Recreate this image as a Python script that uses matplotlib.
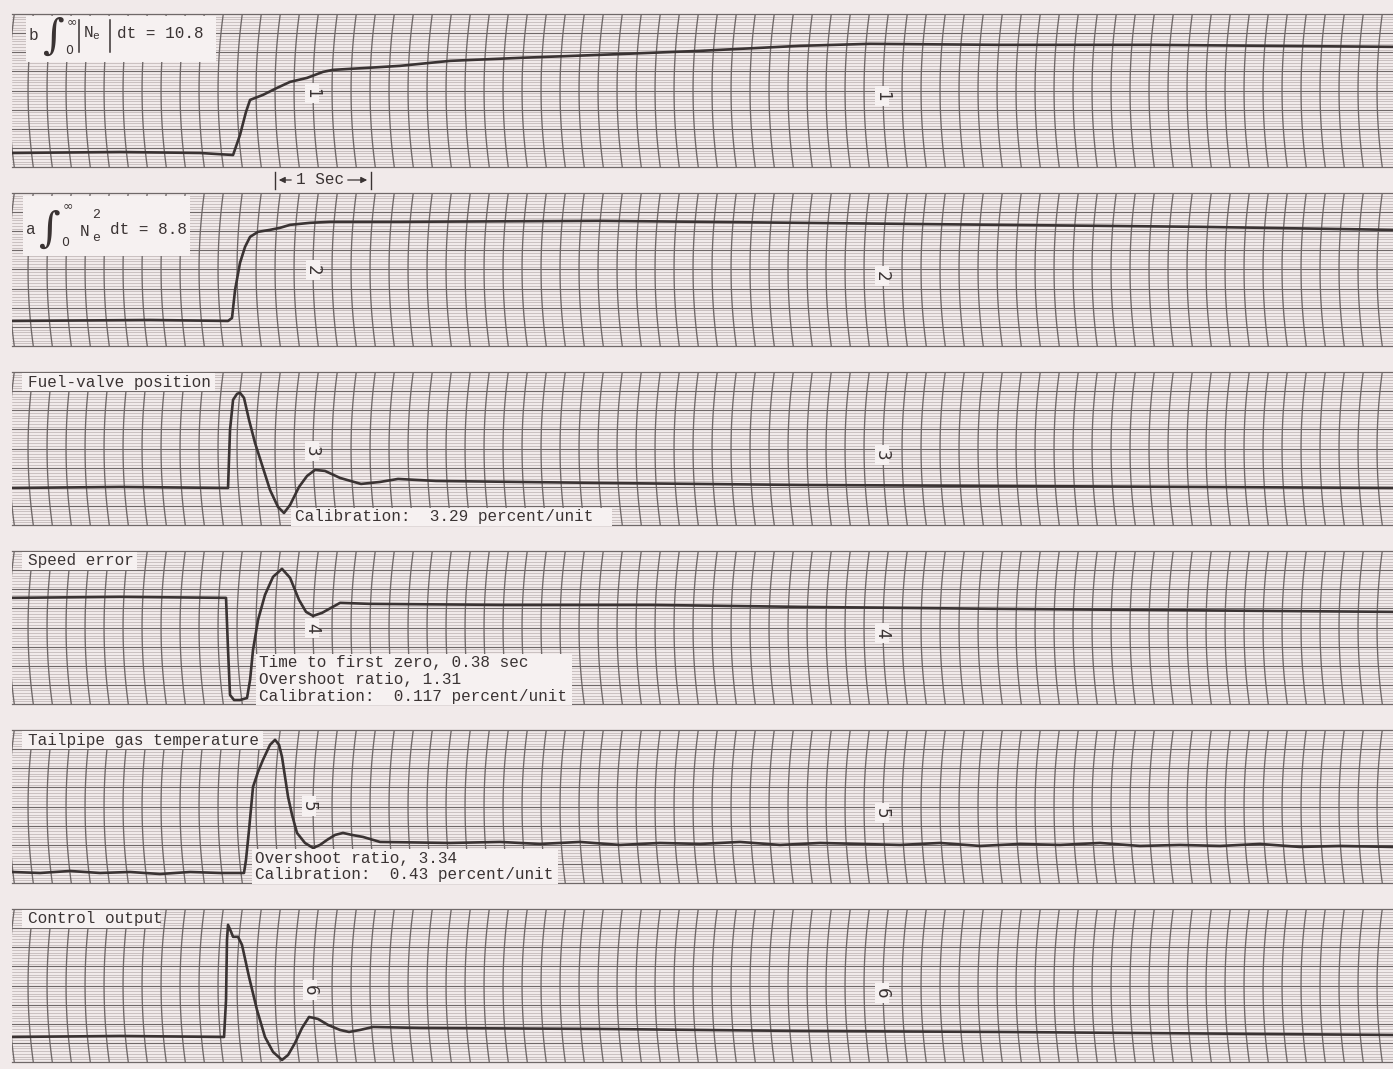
import matplotlib
matplotlib.use("Agg")
import matplotlib.pyplot as plt
from matplotlib.patches import Rectangle
import numpy as np

W, H = 1393, 1069
PAPER = "#f1eaea"
LABEL_BG = "#f6f1f1"
INK = "#3a3333"
GRID_MAJOR = "#6f6868"
GRID_FINE = "#b3aaaa"

plt.rcParams["font.family"] = ["Liberation Mono", "DejaVu Sans Mono"]
plt.rcParams["mathtext.fontset"] = "custom"
plt.rcParams["mathtext.rm"] = "Liberation Mono"
plt.rcParams["mathtext.it"] = "Liberation Mono"

# time after the step (s) and trace deflection (chart divisions above the strip bottom)
t1 = [-2.295, -1.158, -0.316, 0.032, 0.105, 0.168, 0.211, 0.347, 0.495, 0.632, 0.811, 0.979,
      1.084, 1.442, 1.789, 2.316, 3.053, 3.895, 4.947, 6.000, 6.737, 8.105, 9.684, 12.242]
d1 = [0.733, 0.785, 0.733, 0.628, 1.675, 2.880, 3.508, 3.770, 4.136, 4.450, 4.660, 4.974,
      5.079, 5.183, 5.288, 5.550, 5.707, 5.864, 6.073, 6.335, 6.440, 6.387, 6.387, 6.283]

t2 = [-2.295, -0.842, -0.021, 0.021, 0.053, 0.105, 0.158, 0.211, 0.295, 0.421, 0.526, 0.632,
      0.842, 1.053, 1.789, 3.895, 6.000, 8.105, 10.211, 12.242]
d2 = [1.309, 1.361, 1.309, 1.466, 2.932, 4.346, 5.183, 5.707, 5.969, 6.073, 6.178, 6.335,
      6.440, 6.492, 6.492, 6.545, 6.440, 6.335, 6.230, 6.073]

t3 = [-2.295, -1.158, -0.021, 0.000, 0.032, 0.074, 0.105, 0.147, 0.200, 0.263, 0.337, 0.421,
      0.505, 0.568, 0.632, 0.726, 0.811, 0.895, 1.000, 1.158, 1.379, 1.579, 1.768, 2.168,
      3.895, 6.000, 8.105, 12.242]
d3 = [1.937, 1.990, 1.937, 4.974, 6.545, 6.859, 6.911, 6.649, 5.497, 4.293, 3.141, 1.832,
      0.942, 0.628, 1.047, 1.990, 2.565, 2.880, 2.827, 2.461, 2.147, 2.251, 2.408, 2.304,
      2.199, 2.094, 2.042, 1.937]

t4 = [-2.295, -1.158, -0.042, -0.021, 0.000, 0.042, 0.105, 0.179, 0.211, 0.242, 0.295, 0.368,
      0.453, 0.547, 0.632, 0.726, 0.800, 0.874, 0.968, 1.158, 1.474, 2.842, 4.421, 6.000,
      8.105, 12.242]
d4 = [5.550, 5.602, 5.550, 2.827, 0.471, 0.209, 0.209, 0.314, 1.257, 2.827, 4.398, 5.707,
      6.649, 7.068, 6.597, 5.445, 4.817, 4.607, 4.764, 5.288, 5.236, 5.183, 5.183, 5.079,
      4.974, 4.817]

t5 = [-2.295, -2.0, -1.684, -1.368, -1.053, -0.737, -0.421, -0.105, 0.147, 0.168, 0.200,
      0.242, 0.295, 0.347, 0.421, 0.474, 0.516, 0.547, 0.611, 0.653, 0.705, 0.789, 0.874,
      0.947, 1.021, 1.105, 1.189, 1.284, 1.400, 1.579, 2.316, 2.842, 3.263, 3.684, 4.105,
      4.526, 4.947, 5.368, 5.789, 6.211, 6.632, 7.053, 7.474, 7.895, 8.316, 8.737, 9.158,
      9.579, 10.0, 10.421, 10.842, 11.263, 11.684, 12.242]
d5 = [0.576, 0.524, 0.628, 0.524, 0.576, 0.471, 0.576, 0.524, 0.524, 1.204, 2.775,
      5.026, 5.812, 6.440, 7.225, 7.487, 7.225, 6.597, 4.503, 3.560, 2.618, 2.094, 1.832,
      1.990, 2.251, 2.513, 2.618, 2.513, 2.408, 2.147, 2.094, 2.147, 2.042, 2.147, 1.990,
      2.094, 2.042, 2.147, 1.990, 2.094, 2.042, 1.990, 2.094, 1.937, 2.042, 1.990, 2.094,
      1.937, 1.990, 1.937, 2.042, 1.885, 1.937, 1.885]

t6 = [-2.295, -1.158, -0.063, -0.042, -0.032, -0.021, 0.011, 0.032, 0.084, 0.126, 0.200,
      0.284, 0.368, 0.453, 0.547, 0.611, 0.684, 0.758, 0.832, 0.926, 1.032, 1.158, 1.253,
      1.368, 1.505, 2.000, 3.895, 6.000, 8.105, 12.242]
d6 = [1.309, 1.361, 1.309, 3.246, 6.387, 7.173, 6.806, 6.545, 6.545, 6.126, 4.450,
      2.723, 1.309, 0.524, 0.105, 0.366, 0.995, 1.780, 2.356, 2.251, 1.937, 1.675, 1.571,
      1.675, 1.832, 1.780, 1.728, 1.623, 1.571, 1.414]

traces = [(t1, d1), (t2, d2), (t3, d3), (t4, d4), (t5, d5), (t6, d6)]
channel_no = ["1", "2", "3", "4", "5", "6"]
channel_names = ["", "", "Fuel-valve position", "Speed error",
                 "Tailpipe gas temperature", "Control output"]

# strip layout on the page (pixels)
STRIP_LEFT = 12
STRIP_TOP = [14, 193, 372, 551, 730, 909]
STRIP_H = 153
DIVS = 8
FINE_PER_DIV = 7
T_START, T_END = -2.295, 12.242
TIMING_STEP = 0.2          # timing lines every 0.2 sec
TIMING_FIRST = 0.474 - 3.0
ARC_SAG = 0.055            # bow of the timing arcs, in seconds

fig = plt.figure(figsize=(W / 100, H / 100), dpi=100, facecolor=PAPER)

for k in range(6):
    top = STRIP_TOP[k]
    ax = fig.add_axes([STRIP_LEFT / W, 1 - (top + STRIP_H) / H,
                       (W - STRIP_LEFT) / W, STRIP_H / H])
    ax.set_facecolor(PAPER)
    ax.set_xlim(T_START, T_END)
    ax.set_ylim(0, DIVS)
    ax.set_xticks([])
    ax.set_yticks([])
    for s in ["left", "right"]:
        ax.spines[s].set_visible(False)
    for s in ["top", "bottom"]:
        ax.spines[s].set_color(GRID_MAJOR)
        ax.spines[s].set_linewidth(0.9)

    for yv in np.arange(0, DIVS + 1e-6, 1 / FINE_PER_DIV):
        ax.axhline(yv, color=GRID_FINE, lw=0.45, zorder=1)
    for yv in range(1, DIVS):
        ax.axhline(yv, color=GRID_MAJOR, lw=0.8, zorder=2)

    yy = np.linspace(0, DIVS, 30)
    for tk in np.arange(TIMING_FIRST, T_END + 0.2, TIMING_STEP):
        xx = tk + ARC_SAG * ((yy - DIVS / 2) / (DIVS / 2)) ** 2
        ax.plot(xx, yy, color=GRID_MAJOR, lw=0.95, zorder=2)

    t, d = traces[k]
    ax.plot(t, d, color=INK, lw=1.9, zorder=5, solid_joinstyle="round",
            solid_capstyle="round")

# page overlay for the typed annotations
page = fig.add_axes([0, 0, 1, 1], zorder=10)
page.set_xlim(0, W)
page.set_ylim(H, 0)
page.axis("off")
page.patch.set_alpha(0)

FS = 11.5


def label_box(x0, x1, y0, y1):
    page.add_patch(Rectangle((x0, y0), x1 - x0, y1 - y0, facecolor=LABEL_BG,
                             edgecolor="none", zorder=1))


# integral labels
label_box(26, 216, 16, 62)
page.text(29, 35, "b", fontsize=FS, va="center", color=INK)
page.text(53, 37, "\u222b", fontsize=30, family="DejaVu Serif", ha="center",
          va="center", color=INK)
page.text(67, 22, "\u221e", fontsize=9, family="DejaVu Sans", va="center", color=INK)
page.text(65, 50, "0", fontsize=9, family="DejaVu Sans", va="center", color=INK)
page.plot([79, 79], [20, 52], color=INK, lw=1.1)
page.plot([110, 110], [20, 52], color=INK, lw=1.1)
page.text(83, 33, r"N$_\mathrm{e}$", fontsize=FS, va="center", color=INK)
page.text(117, 34, "dt = 10.8", fontsize=FS, va="center", color=INK)

label_box(23, 190, 196, 256)
page.text(26, 230, "a", fontsize=FS, va="center", color=INK)
page.text(49, 230, "\u222b", fontsize=30, family="DejaVu Serif", ha="center",
          va="center", color=INK)
page.text(63, 206, "\u221e", fontsize=9, family="DejaVu Sans", va="center", color=INK)
page.text(61, 243, "0", fontsize=9, family="DejaVu Sans", va="center", color=INK)
page.text(80, 231, "N", fontsize=FS, va="center", color=INK)
page.text(92, 215, "2", fontsize=9.5, va="center", color=INK)
page.text(92, 238, "e", fontsize=9.5, va="center", color=INK)
page.text(110, 230, "dt = 8.8", fontsize=FS, va="center", color=INK)

# 1 sec marker between strips 1 and 2
page.plot([275, 275], [172, 189], color=INK, lw=1.0)
page.plot([371, 371], [172, 189], color=INK, lw=1.0)
page.annotate("", xy=(276, 180), xytext=(294, 180),
              arrowprops=dict(arrowstyle="-|>", color=INK, lw=0.9, mutation_scale=9))
page.annotate("", xy=(370, 180), xytext=(345, 180),
              arrowprops=dict(arrowstyle="-|>", color=INK, lw=0.9, mutation_scale=9))
page.text(296, 180, "1 Sec", fontsize=FS, va="center", color=INK)

# channel names
name_boxes = [None, None, (22, 215), (22, 137), (22, 263), (22, 160)]
for k in range(6):
    if channel_names[k]:
        top = STRIP_TOP[k]
        label_box(name_boxes[k][0], name_boxes[k][1], top + 1, top + 19)
        page.text(name_boxes[k][0] + 6, top + 10, channel_names[k], fontsize=FS,
                  va="center", color=INK)

# rotated channel numbers
num_pos = [(312, 93, 882, 96), (313, 270, 882, 276), (312, 451, 882, 455),
           (312, 628, 882, 633), (309, 806, 882, 813), (310, 990, 882, 993)]
for k in range(6):
    xa, ya, xb, yb = num_pos[k]
    for xn, yn in [(xa, ya), (xb, yb)]:
        label_box(xn - 7, xn + 7, yn - 10, yn + 10)
        page.text(xn, yn, channel_no[k], fontsize=12, family="DejaVu Sans",
                  rotation=-90, ha="center", va="center", color=INK)

# calibration notes
label_box(291, 612, 508, 526)
page.text(295, 517, "Calibration:  3.29 percent/unit", fontsize=FS, va="center", color=INK)

label_box(256, 572, 654, 705)
for i, line in enumerate(["Time to first zero, 0.38 sec", "Overshoot ratio, 1.31",
                          "Calibration:  0.117 percent/unit"]):
    page.text(259, 663 + 16.5 * i, line, fontsize=FS, va="center", color=INK)

label_box(252, 558, 849, 884)
for i, line in enumerate(["Overshoot ratio, 3.34", "Calibration:  0.43 percent/unit"]):
    page.text(255, 858 + 17 * i, line, fontsize=FS, va="center", color=INK)

fig.savefig("out.png", dpi=100, facecolor=PAPER)
